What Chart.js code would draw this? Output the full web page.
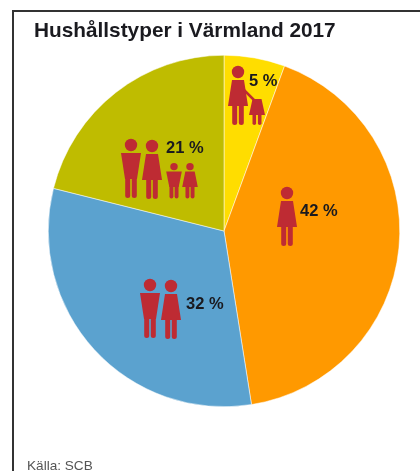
<!DOCTYPE html>
<html>
<head>
<meta charset="utf-8">
<script src="https://cdn.jsdelivr.net/npm/chart.js@4"></script>
<style>
html, body { margin: 0; padding: 0; background: #fff; overflow: hidden; }
#wrap { position: relative; width: 420px; height: 471px; }
#frame { position: absolute; left: 12px; top: 10px; width: 420px; height: 480px; border: 2px solid #333; box-sizing: border-box; }
#rubrik { position: absolute; left: 34px; top: 18px; font: bold 20.8px "Liberation Sans", sans-serif; color: #1a1a1f; white-space: nowrap; }
#kalla { position: absolute; left: 27px; top: 458px; font: 13.6px "Liberation Sans", sans-serif; color: #555; white-space: nowrap; }
canvas { position: absolute; left: 0; top: 0; }
</style>
</head>
<body>
<div id="wrap">
  <canvas id="myChartPie" width="420" height="471"></canvas>
  <div id="frame"></div>
  <div id="rubrik">Hushållstyper i Värmland 2017</div>
  <div id="kalla">Källa: SCB</div>
</div>
<script>
const categories = ["Ensamstående med barn", "Ensamstående utan barn", "Sammanboende utan barn", "Sammanboende med barn"];
const values = [5.6, 41.9, 31.4, 21.1];
const valueLabels = ["5 %", "42 %", "32 %", "21 %"];
const colors = ["#FFDD00", "#FF9900", "#5BA2CF", "#BFBC00"];

const iconColor = "#BE2B33";
// offsets from the pie centre
const labelPos = [[25, -149.5], [76, -19.5], [-38, 73.5], [-58, -82.5]];
const figures = [
    { type: "woman", x: 14, y: -165, s: 1 },
    { type: "woman", x: 63, y: -44, s: 1 },
    { type: "man", x: -74, y: 48, s: 1 },
    { type: "woman", x: -53, y: 49, s: 1 },
    { type: "man", x: -93, y: -92, s: 1 },
    { type: "woman", x: -72, y: -91, s: 1 },
    { type: "man", x: -50, y: -68, s: 0.6, w: 0.78 },
    { type: "woman", x: -34, y: -68, s: 0.6, w: 0.78 }
];

function leg(ctx, x, y, w, h) {
    ctx.beginPath();
    ctx.roundRect(x, y, w, h, [0, 0, w / 2, w / 2]);
    ctx.fill();
}

function drawFigure(ctx, f, cx, cy) {
    let x = cx + f.x;
    let y = cy + f.y;
    let s = f.s;
    let w = f.w || s;
    let top = f.type == "man" ? [10, 6] : [6, 10];
    ctx.fillStyle = iconColor;
    // head
    ctx.beginPath();
    ctx.arc(x, y + 6 * s, 6.2 * s, 0, Math.PI * 2);
    ctx.fill();
    // body
    ctx.beginPath();
    ctx.moveTo(x - top[0] * w, y + 14 * s);
    ctx.lineTo(x + top[0] * w, y + 14 * s);
    ctx.lineTo(x + top[1] * w, y + 40 * s);
    ctx.lineTo(x - top[1] * w, y + 40 * s);
    ctx.closePath();
    ctx.fill();
    // legs
    leg(ctx, x - 5.8 * w, y + 38 * s, 5 * w, 21 * s);
    leg(ctx, x + 0.8 * w, y + 38 * s, 5 * w, 21 * s);
}

// child holding the hand of the woman in the yellow slice
function drawChild(ctx, cx, cy) {
    let x = cx + 33;
    let y = cy - 132;
    ctx.fillStyle = iconColor;
    ctx.beginPath();
    ctx.moveTo(x - 4.5, y);
    ctx.lineTo(x + 4.5, y);
    ctx.lineTo(x + 8, y + 16);
    ctx.lineTo(x - 8, y + 16);
    ctx.closePath();
    ctx.fill();
    leg(ctx, x - 4.5, y + 15, 3.6, 11);
    leg(ctx, x + 0.9, y + 15, 3.6, 11);
    ctx.strokeStyle = iconColor;
    ctx.lineWidth = 2.5;
    ctx.beginPath();
    ctx.moveTo(cx + 20, cy - 141);
    ctx.lineTo(cx + 30, cy - 131);
    ctx.stroke();
}

const figurerPlugin = {
    id: "figurer",
    afterDatasetsDraw(chart) {
        let ctx = chart.ctx;
        let arc = chart.getDatasetMeta(0).data[0];
        let cx = arc.x;
        let cy = arc.y;
        ctx.save();
        for (let i in figures) {
            drawFigure(ctx, figures[i], cx, cy);
        }
        drawChild(ctx, cx, cy);
        ctx.font = "bold 16.5px 'Liberation Sans', sans-serif";
        ctx.fillStyle = "#1a1a1f";
        ctx.textAlign = "left";
        ctx.textBaseline = "middle";
        for (let i in valueLabels) {
            ctx.fillText(valueLabels[i], cx + labelPos[i][0], cy + labelPos[i][1]);
        }
        ctx.restore();
    }
};

new Chart(document.getElementById("myChartPie"), {
    type: "pie",
    data: {
        labels: categories,
        datasets: [{
            data: values,
            backgroundColor: colors,
            borderColor: "#fff",
            borderWidth: 0.5
        }]
    },
    options: {
        responsive: false,
        animation: false,
        layout: { padding: { left: 48, right: 20, top: 55, bottom: 64 } },
        plugins: {
            legend: { display: false },
            tooltip: { enabled: false }
        }
    },
    plugins: [figurerPlugin]
});
</script>
</body>
</html>
